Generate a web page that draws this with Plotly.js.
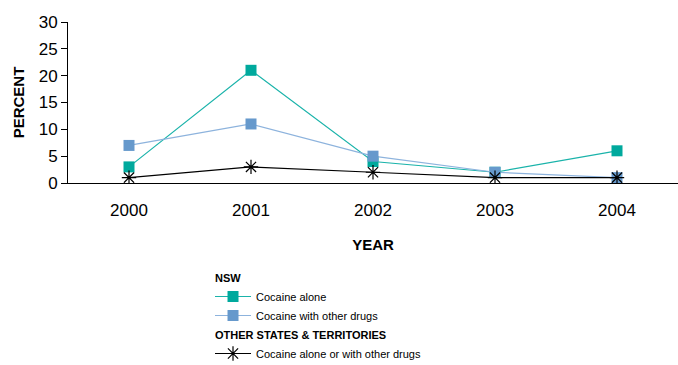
<!DOCTYPE html>
<html><head><meta charset="utf-8">
<script src="https://cdn.plot.ly/plotly-3.0.1.min.js"></script>
<style>html,body{margin:0;padding:0;background:#fff}#c{width:678px;height:365px}</style>
</head><body><div id="c"></div>
<script>
const years = ['2000','2001','2002','2003','2004'];
const nswAlone = [3, 21, 4, 2, 6];
const nswWithOther = [7, 11, 5, 2, 1];
const otherStates = [1, 3, 2, 1, 1];
const yTicks = [0, 5, 10, 15, 20, 25, 30];

const traces = [
  {x: years, y: nswAlone, type: 'scatter', mode: 'lines+markers', name: 'Cocaine alone',
   legendgroup: 'nsw', legendgrouptitle: {text: 'NSW', font: {size: 11, weight: 'bold', color: '#000'}},
   line: {color: '#1ab3aa', width: 1.2}, marker: {symbol: 'square', size: 11, color: '#00a99d'}},
  {x: years, y: nswWithOther, type: 'scatter', mode: 'lines+markers', name: 'Cocaine with other drugs',
   legendgroup: 'nsw',
   line: {color: '#8db3dd', width: 1.2}, marker: {symbol: 'square', size: 11, color: '#6699cc'}},
  {x: years, y: otherStates, type: 'scatter', mode: 'lines+markers', name: 'Cocaine alone or with other drugs',
   legendgroup: 'oth', legendgrouptitle: {text: 'OTHER STATES & TERRITORIES', font: {size: 11, weight: 'bold', color: '#000'}},
   line: {color: '#000', width: 1.2}, marker: {symbol: 'asterisk-open', size: 12, line: {color: '#000', width: 1.2}}}
];

const layout = {
  width: 678, height: 365,
  margin: {l: 68, r: 0, t: 22, b: 182, autoexpand: false},
  paper_bgcolor: '#fff', plot_bgcolor: '#fff',
  font: {family: "'Liberation Sans', Arial, sans-serif", color: '#000'},
  showlegend: true,
  xaxis: {
    type: 'category', range: [-0.5, 4.5], showgrid: false, zeroline: false,
    showline: true, linecolor: '#000', linewidth: 1,
    ticks: 'outside', ticklen: 12, tickcolor: 'rgba(0,0,0,0)',
    tickfont: {size: 17},
    title: {text: 'YEAR', font: {size: 15, weight: 'bold'}, standoff: 20}
  },
  yaxis: {
    range: [0, 30], tickvals: yTicks, showgrid: false, zeroline: false,
    showline: true, linecolor: '#000', linewidth: 1,
    ticks: 'outside', ticklen: 6, tickcolor: '#000',
    tickfont: {size: 17},
    title: {text: 'PERCENT', font: {size: 15, weight: 'bold'}, standoff: 10}
  },
  legend: {
    x: 0.2328, xanchor: 'left', y: -0.497, yanchor: 'top',
    font: {size: 11}, tracegroupgap: 0, itemwidth: 36,
    bgcolor: 'rgba(0,0,0,0)'
  }
};
Plotly.newPlot('c', traces, layout, {displayModeBar: false, staticPlot: true});
</script></body></html>
